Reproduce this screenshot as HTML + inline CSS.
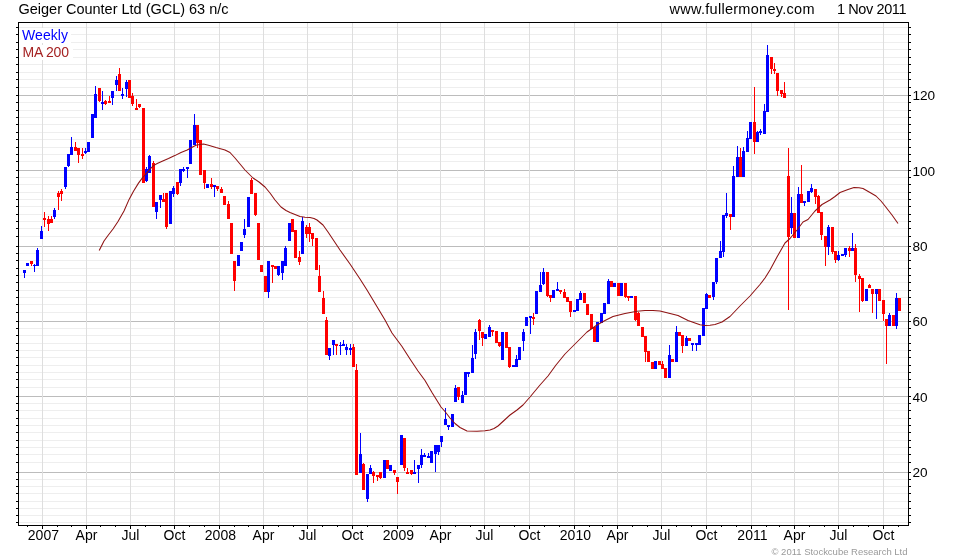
<!DOCTYPE html>
<html><head><meta charset="utf-8"><title>Geiger Counter Ltd (GCL)</title>
<style>html,body{margin:0;padding:0;background:#fff}body{width:960px;height:560px;overflow:hidden}svg{display:block}text{font-family:"Liberation Sans",Arial,sans-serif}</style></head><body>
<svg width="960" height="560" viewBox="0 0 960 560">
<rect width="960" height="560" fill="#fff"/>
<g shape-rendering="crispEdges">
<rect x="19" y="27" width="889" height="1" fill="#eeeeee"/>
<rect x="19" y="34" width="889" height="1" fill="#eeeeee"/>
<rect x="19" y="42" width="889" height="1" fill="#eeeeee"/>
<rect x="19" y="49" width="889" height="1" fill="#eeeeee"/>
<rect x="19" y="57" width="889" height="1" fill="#eeeeee"/>
<rect x="19" y="64" width="889" height="1" fill="#eeeeee"/>
<rect x="19" y="72" width="889" height="1" fill="#eeeeee"/>
<rect x="19" y="79" width="889" height="1" fill="#eeeeee"/>
<rect x="19" y="87" width="889" height="1" fill="#eeeeee"/>
<rect x="19" y="102" width="889" height="1" fill="#eeeeee"/>
<rect x="19" y="110" width="889" height="1" fill="#eeeeee"/>
<rect x="19" y="117" width="889" height="1" fill="#eeeeee"/>
<rect x="19" y="124" width="889" height="1" fill="#eeeeee"/>
<rect x="19" y="132" width="889" height="1" fill="#eeeeee"/>
<rect x="19" y="139" width="889" height="1" fill="#eeeeee"/>
<rect x="19" y="147" width="889" height="1" fill="#eeeeee"/>
<rect x="19" y="154" width="889" height="1" fill="#eeeeee"/>
<rect x="19" y="161" width="889" height="1" fill="#eeeeee"/>
<rect x="19" y="177" width="889" height="1" fill="#eeeeee"/>
<rect x="19" y="184" width="889" height="1" fill="#eeeeee"/>
<rect x="19" y="192" width="889" height="1" fill="#eeeeee"/>
<rect x="19" y="199" width="889" height="1" fill="#eeeeee"/>
<rect x="19" y="206" width="889" height="1" fill="#eeeeee"/>
<rect x="19" y="214" width="889" height="1" fill="#eeeeee"/>
<rect x="19" y="221" width="889" height="1" fill="#eeeeee"/>
<rect x="19" y="228" width="889" height="1" fill="#eeeeee"/>
<rect x="19" y="236" width="889" height="1" fill="#eeeeee"/>
<rect x="19" y="253" width="889" height="1" fill="#eeeeee"/>
<rect x="19" y="260" width="889" height="1" fill="#eeeeee"/>
<rect x="19" y="268" width="889" height="1" fill="#eeeeee"/>
<rect x="19" y="275" width="889" height="1" fill="#eeeeee"/>
<rect x="19" y="282" width="889" height="1" fill="#eeeeee"/>
<rect x="19" y="290" width="889" height="1" fill="#eeeeee"/>
<rect x="19" y="297" width="889" height="1" fill="#eeeeee"/>
<rect x="19" y="304" width="889" height="1" fill="#eeeeee"/>
<rect x="19" y="312" width="889" height="1" fill="#eeeeee"/>
<rect x="19" y="328" width="889" height="1" fill="#eeeeee"/>
<rect x="19" y="335" width="889" height="1" fill="#eeeeee"/>
<rect x="19" y="343" width="889" height="1" fill="#eeeeee"/>
<rect x="19" y="350" width="889" height="1" fill="#eeeeee"/>
<rect x="19" y="357" width="889" height="1" fill="#eeeeee"/>
<rect x="19" y="365" width="889" height="1" fill="#eeeeee"/>
<rect x="19" y="372" width="889" height="1" fill="#eeeeee"/>
<rect x="19" y="379" width="889" height="1" fill="#eeeeee"/>
<rect x="19" y="387" width="889" height="1" fill="#eeeeee"/>
<rect x="19" y="403" width="889" height="1" fill="#eeeeee"/>
<rect x="19" y="410" width="889" height="1" fill="#eeeeee"/>
<rect x="19" y="418" width="889" height="1" fill="#eeeeee"/>
<rect x="19" y="425" width="889" height="1" fill="#eeeeee"/>
<rect x="19" y="432" width="889" height="1" fill="#eeeeee"/>
<rect x="19" y="440" width="889" height="1" fill="#eeeeee"/>
<rect x="19" y="447" width="889" height="1" fill="#eeeeee"/>
<rect x="19" y="454" width="889" height="1" fill="#eeeeee"/>
<rect x="19" y="462" width="889" height="1" fill="#eeeeee"/>
<rect x="19" y="479" width="889" height="1" fill="#eeeeee"/>
<rect x="19" y="486" width="889" height="1" fill="#eeeeee"/>
<rect x="19" y="493" width="889" height="1" fill="#eeeeee"/>
<rect x="19" y="501" width="889" height="1" fill="#eeeeee"/>
<rect x="19" y="508" width="889" height="1" fill="#eeeeee"/>
<rect x="19" y="515" width="889" height="1" fill="#eeeeee"/>
<rect x="19" y="522" width="889" height="1" fill="#eeeeee"/>
<rect x="19" y="95" width="889" height="1" fill="#bcbcbc"/>
<rect x="19" y="170" width="889" height="1" fill="#bcbcbc"/>
<rect x="19" y="246" width="889" height="1" fill="#bcbcbc"/>
<rect x="19" y="321" width="889" height="1" fill="#bcbcbc"/>
<rect x="19" y="396" width="889" height="1" fill="#bcbcbc"/>
<rect x="19" y="472" width="889" height="1" fill="#bcbcbc"/>
<rect x="42" y="23" width="1" height="502" fill="#dedede"/>
<rect x="86" y="23" width="1" height="502" fill="#dedede"/>
<rect x="130" y="23" width="1" height="502" fill="#dedede"/>
<rect x="174" y="23" width="1" height="502" fill="#dedede"/>
<rect x="219" y="23" width="1" height="502" fill="#dedede"/>
<rect x="263" y="23" width="1" height="502" fill="#dedede"/>
<rect x="307" y="23" width="1" height="502" fill="#dedede"/>
<rect x="352" y="23" width="1" height="502" fill="#dedede"/>
<rect x="397" y="23" width="1" height="502" fill="#dedede"/>
<rect x="440" y="23" width="1" height="502" fill="#dedede"/>
<rect x="484" y="23" width="1" height="502" fill="#dedede"/>
<rect x="529" y="23" width="1" height="502" fill="#dedede"/>
<rect x="574" y="23" width="1" height="502" fill="#dedede"/>
<rect x="617" y="23" width="1" height="502" fill="#dedede"/>
<rect x="661" y="23" width="1" height="502" fill="#dedede"/>
<rect x="706" y="23" width="1" height="502" fill="#dedede"/>
<rect x="751" y="23" width="1" height="502" fill="#dedede"/>
<rect x="794" y="23" width="1" height="502" fill="#dedede"/>
<rect x="838" y="23" width="1" height="502" fill="#dedede"/>
<rect x="883" y="23" width="1" height="502" fill="#dedede"/>
<rect x="19" y="28" width="52" height="15" fill="#fff"/>
<rect x="19" y="45" width="54" height="15" fill="#fff"/>
</g>
<g shape-rendering="crispEdges">
<path fill="#ff0000" d="M30 261h3v3h-3zM31 264h1v2h-1zM43 218h3v2h-3zM44 212h1v6h-1zM44 220h1v7h-1zM47 219h3v5h-3zM48 216h1v3h-1zM48 224h1v7h-1zM50 219h3v4h-3zM51 216h1v3h-1zM57 193h3v4h-3zM58 191h1v2h-1zM58 197h1v13h-1zM60 191h3v3h-3zM61 189h1v2h-1zM61 194h1v7h-1zM74 147h3v4h-3zM75 142h1v5h-1zM77 148h3v7h-3zM78 155h1v8h-1zM81 154h3v2h-3zM82 148h1v6h-1zM82 156h1v3h-1zM98 88h3v13h-3zM99 101h1v1h-1zM104 101h3v3h-3zM105 100h1v1h-1zM105 104h1v1h-1zM108 101h3v2h-3zM109 96h1v5h-1zM118 74h3v17h-3zM119 68h1v6h-1zM128 80h3v18h-3zM131 96h3v8h-3zM132 93h1v3h-1zM132 104h1v2h-1zM135 108h3v2h-3zM136 99h1v9h-1zM138 104h3v3h-3zM139 107h1v1h-1zM142 108h3v75h-3zM152 163h3v44h-3zM153 161h1v2h-1zM162 199h3v3h-3zM163 193h1v6h-1zM165 193h3v34h-3zM166 227h1v2h-1zM176 182h3v12h-3zM177 194h1v1h-1zM196 125h3v18h-3zM197 143h1v5h-1zM199 140h3v35h-3zM203 170h3v13h-3zM204 183h1v6h-1zM210 184h3v3h-3zM211 178h1v6h-1zM211 187h1v2h-1zM216 186h3v3h-3zM217 189h1v2h-1zM220 189h3v4h-3zM221 187h1v2h-1zM223 196h3v9h-3zM227 204h3v15h-3zM228 201h1v3h-1zM230 223h3v31h-3zM233 261h3v20h-3zM234 281h1v10h-1zM250 180h3v14h-3zM251 178h1v2h-1zM254 193h3v22h-3zM255 215h1v1h-1zM257 223h3v37h-3zM260 265h3v7h-3zM264 276h3v16h-3zM271 265h3v2h-3zM272 267h1v16h-1zM274 266h3v3h-3zM291 219h3v13h-3zM294 230h3v28h-3zM298 257h3v5h-3zM299 251h1v6h-1zM299 262h1v3h-1zM305 227h3v7h-3zM306 225h1v2h-1zM306 234h1v4h-1zM308 227h3v7h-3zM309 223h1v4h-1zM309 234h1v8h-1zM311 233h3v6h-3zM312 239h1v7h-1zM315 238h3v32h-3zM318 276h3v16h-3zM319 265h1v11h-1zM322 298h3v16h-3zM323 291h1v7h-1zM325 320h3v35h-3zM326 317h1v3h-1zM335 344h3v2h-3zM336 346h1v9h-1zM352 347h3v20h-3zM353 344h1v3h-1zM355 370h3v105h-3zM356 364h1v6h-1zM362 464h3v26h-3zM363 463h1v1h-1zM372 472h3v4h-3zM373 471h1v1h-1zM373 476h1v7h-1zM376 475h3v2h-3zM377 477h1v4h-1zM379 472h3v6h-3zM380 478h1v1h-1zM386 460h3v9h-3zM393 470h3v3h-3zM394 473h1v2h-1zM396 477h3v5h-3zM397 482h1v12h-1zM403 438h3v30h-3zM404 468h1v3h-1zM406 472h3v2h-3zM407 468h1v4h-1zM410 470h3v4h-3zM411 474h1v1h-1zM457 387h3v10h-3zM458 397h1v3h-1zM478 320h3v11h-3zM479 319h1v1h-1zM479 331h1v9h-1zM481 332h3v6h-3zM482 338h1v8h-1zM491 330h3v2h-3zM492 332h1v4h-1zM495 331h3v12h-3zM498 342h3v4h-3zM499 346h1v1h-1zM505 332h3v16h-3zM508 347h3v20h-3zM509 367h1v1h-1zM532 317h3v2h-3zM533 313h1v4h-1zM533 319h1v6h-1zM546 272h3v24h-3zM547 296h1v1h-1zM549 295h3v3h-3zM550 298h1v4h-1zM559 290h3v2h-3zM560 292h1v2h-1zM563 292h3v6h-3zM564 289h1v3h-1zM566 297h3v5h-3zM569 301h3v11h-3zM570 312h1v5h-1zM583 293h3v10h-3zM586 304h3v11h-3zM590 314h3v15h-3zM593 327h3v15h-3zM610 281h3v6h-3zM617 283h3v13h-3zM624 283h3v14h-3zM625 297h1v1h-1zM627 296h3v2h-3zM628 298h1v3h-1zM634 296h3v24h-3zM635 320h1v1h-1zM637 313h3v13h-3zM638 312h1v1h-1zM641 327h3v10h-3zM644 336h3v16h-3zM645 352h1v10h-1zM647 351h3v11h-3zM651 362h3v7h-3zM658 361h3v4h-3zM661 364h3v5h-3zM662 361h1v3h-1zM664 368h3v10h-3zM671 359h3v3h-3zM678 332h3v4h-3zM681 335h3v11h-3zM682 346h1v7h-1zM688 338h3v3h-3zM708 295h3v3h-3zM729 214h3v3h-3zM730 217h1v13h-1zM739 157h3v20h-3zM740 148h1v9h-1zM753 122h3v20h-3zM754 87h1v35h-1zM754 142h1v12h-1zM770 57h3v12h-3zM771 69h1v5h-1zM773 69h3v2h-3zM774 63h1v6h-1zM774 71h1v3h-1zM776 73h3v18h-3zM777 91h1v5h-1zM780 90h3v4h-3zM781 94h1v3h-1zM783 93h3v5h-3zM784 82h1v11h-1zM787 176h3v61h-3zM788 148h1v28h-1zM788 237h1v73h-1zM793 213h3v25h-3zM800 194h3v9h-3zM801 165h1v29h-1zM814 189h3v8h-3zM815 197h1v7h-1zM817 196h3v17h-3zM818 195h1v1h-1zM820 212h3v23h-3zM821 235h1v5h-1zM824 236h3v11h-3zM825 247h1v19h-1zM831 227h3v25h-3zM832 252h1v2h-1zM834 251h3v9h-3zM835 260h1v3h-1zM848 248h3v3h-3zM849 246h1v2h-1zM849 251h1v6h-1zM854 248h3v27h-3zM855 244h1v4h-1zM855 275h1v7h-1zM858 276h3v3h-3zM859 274h1v2h-1zM859 279h1v33h-1zM861 278h3v23h-3zM862 301h1v1h-1zM868 285h3v3h-3zM869 284h1v1h-1zM871 289h3v5h-3zM872 294h1v19h-1zM878 289h3v12h-3zM882 300h3v14h-3zM883 314h1v7h-1zM885 319h3v7h-3zM886 326h1v38h-1zM892 315h3v11h-3zM898 298h3v13h-3z"/>
<path fill="#0000ff" d="M23 270h3v3h-3zM24 273h1v5h-1zM26 263h3v3h-3zM33 265h3v1h-3zM34 264h1v1h-1zM34 266h1v6h-1zM36 250h3v16h-3zM37 248h1v2h-1zM40 231h3v8h-3zM41 226h1v5h-1zM53 210h3v7h-3zM54 208h1v2h-1zM54 217h1v2h-1zM64 167h3v20h-3zM65 187h1v2h-1zM67 154h3v12h-3zM68 166h1v1h-1zM70 147h3v8h-3zM71 137h1v10h-1zM84 151h3v2h-3zM85 148h1v3h-1zM85 153h1v1h-1zM87 142h3v10h-3zM91 114h3v24h-3zM94 94h3v24h-3zM95 86h1v8h-1zM101 102h3v2h-3zM102 91h1v11h-1zM102 104h1v6h-1zM111 91h3v7h-3zM112 98h1v7h-1zM115 80h3v5h-3zM116 76h1v4h-1zM116 85h1v6h-1zM121 94h3v2h-3zM122 88h1v6h-1zM122 96h1v3h-1zM125 82h3v7h-3zM126 80h1v2h-1zM126 89h1v8h-1zM145 169h3v12h-3zM146 167h1v2h-1zM146 181h1v1h-1zM148 156h3v17h-3zM149 155h1v1h-1zM155 202h3v10h-3zM156 212h1v7h-1zM159 195h3v5h-3zM160 200h1v8h-1zM169 191h3v33h-3zM172 188h3v6h-3zM173 186h1v2h-1zM173 194h1v3h-1zM179 169h3v14h-3zM180 183h1v3h-1zM182 169h3v2h-3zM183 167h1v2h-1zM183 171h1v1h-1zM186 167h3v2h-3zM187 169h1v9h-1zM189 140h3v24h-3zM193 125h3v20h-3zM194 114h1v11h-1zM206 184h3v4h-3zM213 185h3v2h-3zM214 187h1v10h-1zM237 255h3v11h-3zM240 242h3v9h-3zM243 229h3v6h-3zM244 219h1v10h-1zM244 235h1v3h-1zM247 197h3v30h-3zM267 261h3v31h-3zM268 292h1v6h-1zM277 266h3v9h-3zM278 275h1v1h-1zM281 261h3v12h-3zM282 273h1v7h-1zM284 248h3v18h-3zM285 246h1v2h-1zM288 223h3v18h-3zM301 221h3v33h-3zM302 217h1v4h-1zM328 348h3v8h-3zM329 356h1v4h-1zM332 340h3v5h-3zM333 345h1v10h-1zM339 345h3v1h-3zM340 342h1v3h-1zM340 346h1v9h-1zM342 344h3v2h-3zM343 340h1v4h-1zM345 347h3v3h-3zM346 344h1v3h-1zM346 350h1v5h-1zM349 348h3v2h-3zM350 344h1v4h-1zM350 350h1v5h-1zM359 454h3v19h-3zM360 433h1v21h-1zM366 474h3v25h-3zM367 499h1v3h-1zM369 468h3v6h-3zM370 465h1v3h-1zM383 460h3v18h-3zM389 465h3v6h-3zM400 435h3v30h-3zM413 472h3v2h-3zM414 460h1v12h-1zM417 465h3v4h-3zM418 469h1v14h-1zM420 455h3v10h-3zM421 449h1v6h-1zM421 465h1v3h-1zM423 455h3v2h-3zM424 453h1v2h-1zM427 456h3v2h-3zM428 453h1v3h-1zM430 451h3v12h-3zM434 445h3v9h-3zM435 454h1v18h-1zM437 445h3v7h-3zM438 452h1v3h-1zM440 436h3v6h-3zM441 442h1v5h-1zM444 419h3v6h-3zM445 408h1v11h-1zM447 425h3v2h-3zM448 427h1v3h-1zM451 414h3v13h-3zM454 388h3v14h-3zM455 385h1v3h-1zM461 395h3v8h-3zM462 391h1v4h-1zM464 372h3v23h-3zM467 372h3v2h-3zM468 374h1v3h-1zM471 358h3v15h-3zM472 345h1v13h-1zM474 332h3v22h-3zM475 329h1v3h-1zM475 354h1v5h-1zM484 334h3v5h-3zM488 327h3v10h-3zM489 325h1v2h-1zM501 332h3v28h-3zM512 365h3v2h-3zM515 359h3v8h-3zM516 355h1v4h-1zM518 347h3v13h-3zM522 332h3v9h-3zM523 329h1v3h-1zM523 341h1v10h-1zM525 317h3v9h-3zM529 316h3v2h-3zM530 318h1v16h-1zM535 291h3v23h-3zM539 285h3v7h-3zM540 272h1v13h-1zM542 272h3v12h-3zM543 268h1v4h-1zM543 284h1v1h-1zM552 290h3v8h-3zM556 289h3v2h-3zM557 282h1v7h-1zM573 310h3v2h-3zM576 299h3v12h-3zM579 293h3v7h-3zM580 291h1v2h-1zM596 322h3v20h-3zM600 313h3v10h-3zM603 303h3v11h-3zM607 281h3v23h-3zM608 279h1v2h-1zM613 283h3v4h-3zM620 283h3v13h-3zM630 296h3v2h-3zM654 361h3v8h-3zM668 355h3v23h-3zM669 345h1v10h-1zM675 332h3v30h-3zM676 326h1v6h-1zM685 338h3v8h-3zM686 336h1v2h-1zM691 343h3v2h-3zM692 345h1v6h-1zM695 343h3v2h-3zM696 345h1v6h-1zM698 335h3v10h-3zM702 308h3v28h-3zM705 294h3v15h-3zM706 293h1v1h-1zM712 282h3v15h-3zM713 297h1v3h-1zM715 258h3v24h-3zM716 282h1v2h-1zM719 251h3v7h-3zM720 241h1v10h-1zM722 215h3v37h-3zM723 252h1v5h-1zM725 213h3v3h-3zM726 193h1v20h-1zM726 216h1v2h-1zM732 176h3v41h-3zM733 166h1v10h-1zM736 157h3v20h-3zM737 146h1v11h-1zM742 151h3v26h-3zM743 147h1v4h-1zM746 138h3v14h-3zM747 131h1v7h-1zM749 122h3v17h-3zM756 132h3v10h-3zM757 131h1v1h-1zM759 131h3v2h-3zM760 129h1v2h-1zM760 133h1v2h-1zM763 111h3v23h-3zM764 104h1v7h-1zM766 55h3v57h-3zM767 45h1v10h-1zM790 213h3v15h-3zM791 197h1v16h-1zM791 228h1v6h-1zM797 194h3v44h-3zM798 187h1v7h-1zM803 201h3v2h-3zM804 203h1v3h-1zM807 191h3v11h-3zM810 188h3v4h-3zM811 184h1v4h-1zM811 192h1v1h-1zM827 227h3v20h-3zM828 225h1v2h-1zM828 247h1v8h-1zM837 255h3v5h-3zM838 251h1v4h-1zM838 260h1v1h-1zM841 254h3v2h-3zM844 248h3v7h-3zM845 255h1v2h-1zM851 248h3v3h-3zM852 233h1v15h-1zM865 289h3v12h-3zM875 289h3v5h-3zM876 294h1v25h-1zM888 315h3v11h-3zM889 313h1v2h-1zM895 298h3v28h-3zM896 293h1v5h-1zM896 326h1v3h-1z"/>
</g>
<polyline points="99.2,250.6 104.0,241.0 108.0,235.5 113.0,229.0 118.0,221.5 124.0,211.0 129.1,199.4 133.5,191.2 138.5,183.1 142.2,178.1 146.0,173.8 149.8,169.4 153.5,165.6 157.2,163.5 162.2,161.2 168.5,158.5 174.8,155.6 181.0,152.5 187.2,150.0 192.2,147.2 196.0,145.2 199.8,144.4 203.5,144.1 208.5,145.2 216.0,147.5 225.0,150.0 230.0,152.5 235.0,158.0 240.0,164.0 245.0,170.0 253.0,178.0 259.0,182.0 265.0,187.0 270.0,193.0 275.0,200.0 281.0,207.0 286.0,210.5 290.0,212.5 295.0,214.5 300.0,216.5 305.0,217.2 310.0,217.5 314.0,218.5 317.0,220.0 323.0,225.0 328.0,232.0 332.0,238.0 340.0,250.0 350.0,264.0 360.0,279.0 367.0,290.0 376.0,305.0 385.0,320.0 392.0,333.0 402.0,346.5 410.0,359.0 418.0,371.0 425.0,380.5 432.0,392.5 441.0,407.0 445.0,411.5 450.0,418.0 455.0,423.5 460.0,427.5 467.0,431.0 477.0,431.2 485.0,430.8 490.0,430.0 494.0,428.5 498.0,426.0 504.0,420.5 510.0,415.0 517.0,410.0 523.0,405.0 530.0,397.0 540.0,385.0 548.0,376.0 556.0,365.0 565.0,354.0 575.0,344.0 587.0,332.0 597.0,325.0 605.0,320.5 613.0,316.5 625.0,313.5 637.0,311.2 645.0,310.5 653.0,310.5 660.0,311.0 668.0,313.0 678.0,315.5 688.0,320.5 695.0,323.0 700.0,324.8 705.0,325.5 710.0,325.3 715.0,324.5 722.0,322.0 730.0,316.5 740.0,306.0 750.0,296.0 760.0,284.5 765.0,278.0 770.0,270.0 777.0,257.0 785.0,243.0 790.0,238.5 797.0,230.0 803.0,222.0 808.0,219.5 815.0,211.0 822.0,204.5 830.0,200.0 835.0,196.5 840.0,192.5 848.0,189.5 854.0,187.5 859.0,187.8 863.0,188.5 870.0,192.5 876.0,196.0 881.0,201.0 885.0,206.0 892.0,215.0 898.0,223.5" fill="none" stroke="#8e1212" stroke-width="1.05" stroke-linejoin="round"/>
<g shape-rendering="crispEdges" fill="#000">
<rect x="18" y="22" width="891" height="1"/>
<rect x="18" y="525" width="891" height="1"/>
<rect x="18" y="22" width="1" height="504"/>
<rect x="908" y="22" width="1" height="504"/>
<rect x="16" y="27" width="2" height="1"/>
<rect x="909" y="27" width="2" height="1"/>
<rect x="16" y="34" width="2" height="1"/>
<rect x="909" y="34" width="2" height="1"/>
<rect x="16" y="42" width="2" height="1"/>
<rect x="909" y="42" width="2" height="1"/>
<rect x="16" y="49" width="2" height="1"/>
<rect x="909" y="49" width="2" height="1"/>
<rect x="16" y="57" width="2" height="1"/>
<rect x="909" y="57" width="2" height="1"/>
<rect x="16" y="64" width="2" height="1"/>
<rect x="909" y="64" width="2" height="1"/>
<rect x="16" y="72" width="2" height="1"/>
<rect x="909" y="72" width="2" height="1"/>
<rect x="16" y="79" width="2" height="1"/>
<rect x="909" y="79" width="2" height="1"/>
<rect x="16" y="87" width="2" height="1"/>
<rect x="909" y="87" width="2" height="1"/>
<rect x="16" y="102" width="2" height="1"/>
<rect x="909" y="102" width="2" height="1"/>
<rect x="16" y="110" width="2" height="1"/>
<rect x="909" y="110" width="2" height="1"/>
<rect x="16" y="117" width="2" height="1"/>
<rect x="909" y="117" width="2" height="1"/>
<rect x="16" y="124" width="2" height="1"/>
<rect x="909" y="124" width="2" height="1"/>
<rect x="16" y="132" width="2" height="1"/>
<rect x="909" y="132" width="2" height="1"/>
<rect x="16" y="139" width="2" height="1"/>
<rect x="909" y="139" width="2" height="1"/>
<rect x="16" y="147" width="2" height="1"/>
<rect x="909" y="147" width="2" height="1"/>
<rect x="16" y="154" width="2" height="1"/>
<rect x="909" y="154" width="2" height="1"/>
<rect x="16" y="161" width="2" height="1"/>
<rect x="909" y="161" width="2" height="1"/>
<rect x="16" y="177" width="2" height="1"/>
<rect x="909" y="177" width="2" height="1"/>
<rect x="16" y="184" width="2" height="1"/>
<rect x="909" y="184" width="2" height="1"/>
<rect x="16" y="192" width="2" height="1"/>
<rect x="909" y="192" width="2" height="1"/>
<rect x="16" y="199" width="2" height="1"/>
<rect x="909" y="199" width="2" height="1"/>
<rect x="16" y="206" width="2" height="1"/>
<rect x="909" y="206" width="2" height="1"/>
<rect x="16" y="214" width="2" height="1"/>
<rect x="909" y="214" width="2" height="1"/>
<rect x="16" y="221" width="2" height="1"/>
<rect x="909" y="221" width="2" height="1"/>
<rect x="16" y="228" width="2" height="1"/>
<rect x="909" y="228" width="2" height="1"/>
<rect x="16" y="236" width="2" height="1"/>
<rect x="909" y="236" width="2" height="1"/>
<rect x="16" y="253" width="2" height="1"/>
<rect x="909" y="253" width="2" height="1"/>
<rect x="16" y="260" width="2" height="1"/>
<rect x="909" y="260" width="2" height="1"/>
<rect x="16" y="268" width="2" height="1"/>
<rect x="909" y="268" width="2" height="1"/>
<rect x="16" y="275" width="2" height="1"/>
<rect x="909" y="275" width="2" height="1"/>
<rect x="16" y="282" width="2" height="1"/>
<rect x="909" y="282" width="2" height="1"/>
<rect x="16" y="290" width="2" height="1"/>
<rect x="909" y="290" width="2" height="1"/>
<rect x="16" y="297" width="2" height="1"/>
<rect x="909" y="297" width="2" height="1"/>
<rect x="16" y="304" width="2" height="1"/>
<rect x="909" y="304" width="2" height="1"/>
<rect x="16" y="312" width="2" height="1"/>
<rect x="909" y="312" width="2" height="1"/>
<rect x="16" y="328" width="2" height="1"/>
<rect x="909" y="328" width="2" height="1"/>
<rect x="16" y="335" width="2" height="1"/>
<rect x="909" y="335" width="2" height="1"/>
<rect x="16" y="343" width="2" height="1"/>
<rect x="909" y="343" width="2" height="1"/>
<rect x="16" y="350" width="2" height="1"/>
<rect x="909" y="350" width="2" height="1"/>
<rect x="16" y="357" width="2" height="1"/>
<rect x="909" y="357" width="2" height="1"/>
<rect x="16" y="365" width="2" height="1"/>
<rect x="909" y="365" width="2" height="1"/>
<rect x="16" y="372" width="2" height="1"/>
<rect x="909" y="372" width="2" height="1"/>
<rect x="16" y="379" width="2" height="1"/>
<rect x="909" y="379" width="2" height="1"/>
<rect x="16" y="387" width="2" height="1"/>
<rect x="909" y="387" width="2" height="1"/>
<rect x="16" y="403" width="2" height="1"/>
<rect x="909" y="403" width="2" height="1"/>
<rect x="16" y="410" width="2" height="1"/>
<rect x="909" y="410" width="2" height="1"/>
<rect x="16" y="418" width="2" height="1"/>
<rect x="909" y="418" width="2" height="1"/>
<rect x="16" y="425" width="2" height="1"/>
<rect x="909" y="425" width="2" height="1"/>
<rect x="16" y="432" width="2" height="1"/>
<rect x="909" y="432" width="2" height="1"/>
<rect x="16" y="440" width="2" height="1"/>
<rect x="909" y="440" width="2" height="1"/>
<rect x="16" y="447" width="2" height="1"/>
<rect x="909" y="447" width="2" height="1"/>
<rect x="16" y="454" width="2" height="1"/>
<rect x="909" y="454" width="2" height="1"/>
<rect x="16" y="462" width="2" height="1"/>
<rect x="909" y="462" width="2" height="1"/>
<rect x="16" y="479" width="2" height="1"/>
<rect x="909" y="479" width="2" height="1"/>
<rect x="16" y="486" width="2" height="1"/>
<rect x="909" y="486" width="2" height="1"/>
<rect x="16" y="493" width="2" height="1"/>
<rect x="909" y="493" width="2" height="1"/>
<rect x="16" y="501" width="2" height="1"/>
<rect x="909" y="501" width="2" height="1"/>
<rect x="16" y="508" width="2" height="1"/>
<rect x="909" y="508" width="2" height="1"/>
<rect x="16" y="515" width="2" height="1"/>
<rect x="909" y="515" width="2" height="1"/>
<rect x="16" y="522" width="2" height="1"/>
<rect x="909" y="522" width="2" height="1"/>
<rect x="16" y="95" width="2" height="1"/>
<rect x="909" y="95" width="2" height="1"/>
<rect x="16" y="170" width="2" height="1"/>
<rect x="909" y="170" width="2" height="1"/>
<rect x="16" y="246" width="2" height="1"/>
<rect x="909" y="246" width="2" height="1"/>
<rect x="16" y="321" width="2" height="1"/>
<rect x="909" y="321" width="2" height="1"/>
<rect x="16" y="396" width="2" height="1"/>
<rect x="909" y="396" width="2" height="1"/>
<rect x="16" y="472" width="2" height="1"/>
<rect x="909" y="472" width="2" height="1"/>
<rect x="27" y="526" width="1" height="1"/>
<rect x="42" y="526" width="1" height="3"/>
<rect x="57" y="526" width="1" height="1"/>
<rect x="71" y="526" width="1" height="1"/>
<rect x="86" y="526" width="1" height="3"/>
<rect x="100" y="526" width="1" height="1"/>
<rect x="115" y="526" width="1" height="1"/>
<rect x="130" y="526" width="1" height="3"/>
<rect x="145" y="526" width="1" height="1"/>
<rect x="160" y="526" width="1" height="1"/>
<rect x="174" y="526" width="1" height="3"/>
<rect x="189" y="526" width="1" height="1"/>
<rect x="204" y="526" width="1" height="1"/>
<rect x="219" y="526" width="1" height="3"/>
<rect x="234" y="526" width="1" height="1"/>
<rect x="248" y="526" width="1" height="1"/>
<rect x="263" y="526" width="1" height="3"/>
<rect x="278" y="526" width="1" height="1"/>
<rect x="293" y="526" width="1" height="1"/>
<rect x="307" y="526" width="1" height="3"/>
<rect x="322" y="526" width="1" height="1"/>
<rect x="337" y="526" width="1" height="1"/>
<rect x="352" y="526" width="1" height="3"/>
<rect x="367" y="526" width="1" height="1"/>
<rect x="382" y="526" width="1" height="1"/>
<rect x="397" y="526" width="1" height="3"/>
<rect x="412" y="526" width="1" height="1"/>
<rect x="425" y="526" width="1" height="1"/>
<rect x="440" y="526" width="1" height="3"/>
<rect x="455" y="526" width="1" height="1"/>
<rect x="470" y="526" width="1" height="1"/>
<rect x="484" y="526" width="1" height="3"/>
<rect x="499" y="526" width="1" height="1"/>
<rect x="514" y="526" width="1" height="1"/>
<rect x="529" y="526" width="1" height="3"/>
<rect x="544" y="526" width="1" height="1"/>
<rect x="559" y="526" width="1" height="1"/>
<rect x="574" y="526" width="1" height="3"/>
<rect x="589" y="526" width="1" height="1"/>
<rect x="602" y="526" width="1" height="1"/>
<rect x="617" y="526" width="1" height="3"/>
<rect x="632" y="526" width="1" height="1"/>
<rect x="647" y="526" width="1" height="1"/>
<rect x="661" y="526" width="1" height="3"/>
<rect x="676" y="526" width="1" height="1"/>
<rect x="691" y="526" width="1" height="1"/>
<rect x="706" y="526" width="1" height="3"/>
<rect x="721" y="526" width="1" height="1"/>
<rect x="736" y="526" width="1" height="1"/>
<rect x="751" y="526" width="1" height="3"/>
<rect x="766" y="526" width="1" height="1"/>
<rect x="779" y="526" width="1" height="1"/>
<rect x="794" y="526" width="1" height="3"/>
<rect x="809" y="526" width="1" height="1"/>
<rect x="824" y="526" width="1" height="1"/>
<rect x="838" y="526" width="1" height="3"/>
<rect x="853" y="526" width="1" height="1"/>
<rect x="868" y="526" width="1" height="1"/>
<rect x="883" y="526" width="1" height="3"/>
<rect x="898" y="526" width="1" height="1"/>
</g>
<g font-size="14" fill="#000">
<text x="18.5" y="13.8" font-size="14.5" textLength="210" lengthAdjust="spacing">Geiger Counter Ltd (GCL) 63 n/c</text>
<text x="669.5" y="13.8" font-size="14.5" textLength="145" lengthAdjust="spacing">www.fullermoney.com</text>
<text x="837" y="13.8" font-size="14.5" textLength="69.5" lengthAdjust="spacing">1 Nov 2011</text>
<text x="43.4" y="540" text-anchor="middle" font-size="14">2007</text>
<text x="86.5" y="540" text-anchor="middle" font-size="14">Apr</text>
<text x="130.5" y="540" text-anchor="middle" font-size="14">Jul</text>
<text x="174.5" y="540" text-anchor="middle" font-size="14">Oct</text>
<text x="220.4" y="540" text-anchor="middle" font-size="14">2008</text>
<text x="263.5" y="540" text-anchor="middle" font-size="14">Apr</text>
<text x="307.5" y="540" text-anchor="middle" font-size="14">Jul</text>
<text x="352.5" y="540" text-anchor="middle" font-size="14">Oct</text>
<text x="398.4" y="540" text-anchor="middle" font-size="14">2009</text>
<text x="440.5" y="540" text-anchor="middle" font-size="14">Apr</text>
<text x="484.5" y="540" text-anchor="middle" font-size="14">Jul</text>
<text x="529.5" y="540" text-anchor="middle" font-size="14">Oct</text>
<text x="575.4" y="540" text-anchor="middle" font-size="14">2010</text>
<text x="617.5" y="540" text-anchor="middle" font-size="14">Apr</text>
<text x="661.5" y="540" text-anchor="middle" font-size="14">Jul</text>
<text x="706.5" y="540" text-anchor="middle" font-size="14">Oct</text>
<text x="752.4" y="540" text-anchor="middle" font-size="14">2011</text>
<text x="794.5" y="540" text-anchor="middle" font-size="14">Apr</text>
<text x="838.5" y="540" text-anchor="middle" font-size="14">Jul</text>
<text x="883.5" y="540" text-anchor="middle" font-size="14">Oct</text>
<text x="912.5" y="477.1" font-size="13.6">20</text>
<text x="912.5" y="401.7" font-size="13.6">40</text>
<text x="912.5" y="326.3" font-size="13.6">60</text>
<text x="912.5" y="250.9" font-size="13.6">80</text>
<text x="912.5" y="175.5" font-size="13.6">100</text>
<text x="912.5" y="100.1" font-size="13.6">120</text>
<text x="22" y="39.5" fill="#0000ff" textLength="46" lengthAdjust="spacing">Weekly</text>
<text x="22.5" y="57" fill="#a52323" textLength="46.5" lengthAdjust="spacing">MA 200</text>
</g>
<text x="771.5" y="555" font-size="9.5" fill="#9a9a9a" textLength="136" lengthAdjust="spacing">© 2011 Stockcube Research Ltd</text>
</svg></body></html>
